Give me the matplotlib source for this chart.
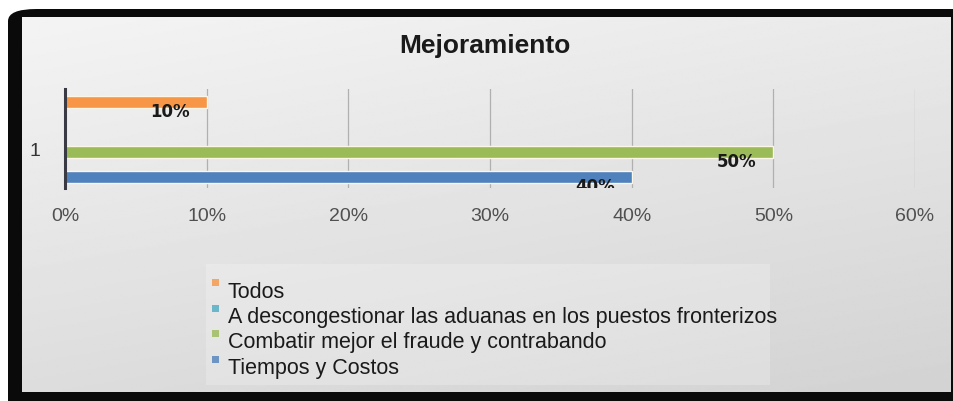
import numpy as np
import matplotlib
matplotlib.use("Agg")
import matplotlib.pyplot as plt
from matplotlib.patches import FancyBboxPatch, Rectangle
from matplotlib.transforms import Bbox, TransformedBbox, ScaledTranslation

# ---- data ----
title = "Mejoramiento"
categories = ["1"]
series_names = [
    "Tiempos y Costos",
    "Combatir mejor el fraude y contrabando",
    "A descongestionar las aduanas en los puestos fronterizos",
    "Todos",
]
values = [0.40, 0.50, 0.0, 0.10]
series_colors = ["#4F81BD", "#9BBB59", "#4BACC6", "#F79646"]
xticks = [0.0, 0.1, 0.2, 0.3, 0.4, 0.5, 0.6]
xtick_labels = ["0%", "10%", "20%", "30%", "40%", "50%", "60%"]

FONT = ["Liberation Sans", "DejaVu Sans"]
plt.rcParams["font.family"] = FONT

W, H = 954, 402
fig = plt.figure(figsize=(W / 100, H / 100), dpi=100)
fig.patch.set_facecolor("white")

def fx(px):
    return px / W

def fy(py):
    return 1 - py / H

# frame (black rounded border)
frame = FancyBboxPatch((fx(8), fy(420)), fx(990) - fx(8), fy(10) - fy(420),
                       boxstyle="round,pad=0,rounding_size=0.03",
                       transform=fig.transFigure, facecolor="#0a0a0a",
                       edgecolor="none", zorder=-5)
fig.patches.append(frame)

# inner gradient background
bg = fig.add_axes([fx(22), fy(393), fx(951) - fx(22), fy(18) - fy(393)], zorder=0)
gy, gx = np.mgrid[0:1:200j, 0:1:400j]
val = 0.955 - 0.09 * gy - 0.04 * gx
bg.imshow(val, cmap="gray", vmin=0, vmax=1, aspect="auto",
          extent=[0, 1, 1, 0], interpolation="bilinear")
bg.set_axis_off()

# main axes
ax = fig.add_axes([fx(65), fy(189), fx(915) - fx(65), fy(90) - fy(189)], zorder=2)
ax.patch.set_alpha(0)
ax.set_xlim(0, 0.6)
ax.set_ylim(-0.5, 0.5)

n = len(series_names)
step = 0.255
bar_h = 0.12
center = -0.01
for i, (name, v, c) in enumerate(zip(series_names, values, series_colors)):
    pos = center + (i - (n - 1) / 2) * step
    ax.barh(pos, v, height=bar_h, color=c, edgecolor="#fbf6e6",
            linewidth=1.0, zorder=3, label=name)
    if v > 0:
        t = ax.annotate(f"{v:.0%}", xy=(v, pos), xytext=(-12, -6.5),
                        textcoords="offset points", ha="right", va="center",
                        fontsize=12, fontweight="bold", color="#1a1a1a",
                        family=["DejaVu Sans"], zorder=4,
                        annotation_clip=False)
        t.set_clip_box(ax.bbox)
        t.set_clip_on(True)

for xt in xticks[1:]:
    ax.axvline(xt, color="#b0b0b0", linewidth=0.9, zorder=1)

ax.set_xticks(xticks)
ax.set_xticklabels(xtick_labels)
ax.set_yticks([0])
ax.set_yticklabels(categories)
ax.tick_params(axis="x", length=0, pad=14, labelsize=14, labelcolor="#505050")
ax.tick_params(axis="y", length=0, pad=18, labelsize=14, labelcolor="#333333")
shift = ScaledTranslation(0, -10 / 100, fig.dpi_scale_trans)
for lab in ax.get_yticklabels():
    lab.set_transform(lab.get_transform() + shift)
for s in ["top", "right", "bottom"]:
    ax.spines[s].set_visible(False)
ax.spines["left"].set_color("#3a3a44")
ax.spines["left"].set_linewidth(2.2)
ax.spines["left"].set_zorder(5)

# title
fig.text(fx(485), fy(46), title, ha="center", va="center", fontsize=19,
         fontweight="bold", color="#1a1a1a", zorder=5)

# legend (manual, clipped by the frame like the reference)
leg_box = Rectangle((fx(206), fy(386)), fx(770) - fx(206), fy(265) - fy(386),
                    transform=fig.transFigure, facecolor="#ffffff", alpha=0.22,
                    edgecolor="none", zorder=3)
fig.patches.append(leg_box)
clip = TransformedBbox(Bbox.from_extents(fx(200), fy(385), fx(790), fy(260)),
                       fig.transFigure)
row_y = [292, 318, 343, 369]
order = list(range(n))[::-1]
for k, idx in enumerate(order):
    y = row_y[k]
    sq = Rectangle((fx(212), fy(y - 5)), fx(7), 7 / H, transform=fig.transFigure,
                   facecolor=series_colors[idx], edgecolor="none", alpha=0.8,
                   zorder=4)
    fig.patches.append(sq)
    t = fig.text(fx(228), fy(y), series_names[idx], ha="left", va="center",
                 fontsize=15.5, color="#1a1a1a", zorder=5)
    t.set_clip_box(clip)
    t.set_clip_on(True)

fig.savefig("out.png", dpi=100)
